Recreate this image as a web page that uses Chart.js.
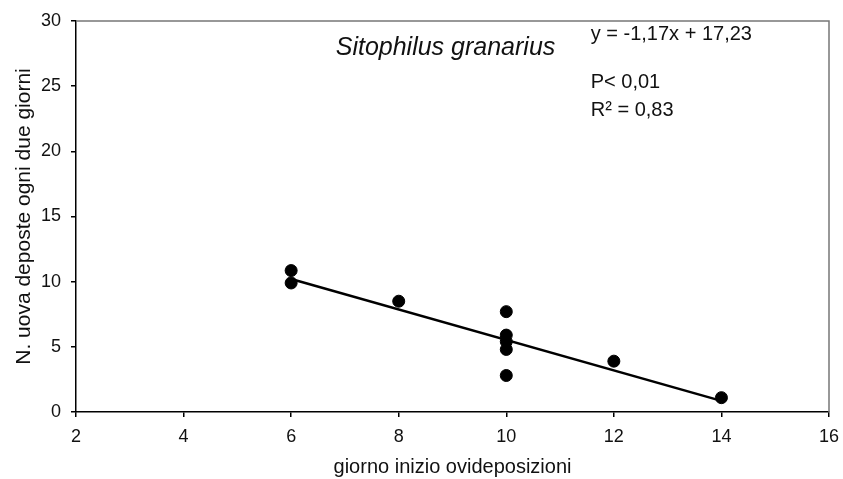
<!DOCTYPE html>
<html>
<head>
<meta charset="utf-8">
<script src="https://cdn.jsdelivr.net/npm/chart.js@4/dist/chart.umd.min.js"></script>
<style>
  html, body { margin: 0; padding: 0; background: #fff; }
  #wrap { width: 843px; height: 479px; }
</style>
</head>
<body>
<div id="wrap"><canvas id="c" width="843" height="479"></canvas></div>
<script>
  // osservazioni (giorno inizio, uova ogni due giorni)
  var giorni = [6, 6, 8, 10, 10, 10, 10, 10, 12, 14];
  var uova = [10.85, 9.9, 8.5, 7.7, 5.9, 5.4, 4.8, 2.8, 3.9, 1.1];

  // retta di regressione
  var rettaX = [6, 14];
  var rettaY = [10.21, 0.85];

  var xTicks = [2, 4, 6, 8, 10, 12, 14, 16];
  var yTicks = [0, 5, 10, 15, 20, 25, 30];

  var annotazioni = [
    { text: 'Sitophilus granarius', x: 8.87, y: 27.9, font: 'italic 25px "Liberation Sans", Arial', align: 'center' },
    { text: 'y = -1,17x + 17,23', x: 11.57, y: 28.95, font: '20px "Liberation Sans", Arial', align: 'left' },
    { text: 'P< 0,01', x: 11.57, y: 25.3, font: '20px "Liberation Sans", Arial', align: 'left' },
    { text: 'R² = 0,83', x: 11.57, y: 23.1, font: '20px "Liberation Sans", Arial', align: 'left' }
  ];

  var scatterPts = giorni.map(function (g, i) { return { x: g, y: uova[i] }; });
  var linePts = rettaX.map(function (g, i) { return { x: g, y: rettaY[i] }; });

  var frame = {
    id: 'frame',
    beforeDatasetsDraw: function (chart) {
      var a = chart.chartArea, ctx = chart.ctx;
      ctx.save();
      ctx.strokeStyle = '#777';
      ctx.lineWidth = 1.5;
      ctx.beginPath();
      ctx.moveTo(a.left, a.top);
      ctx.lineTo(a.right, a.top);
      ctx.lineTo(a.right, a.bottom);
      ctx.stroke();
      ctx.restore();
    },
    afterDraw: function (chart) {
      var ctx = chart.ctx, sx = chart.scales.x, sy = chart.scales.y;
      ctx.save();
      ctx.fillStyle = '#111';
      ctx.textBaseline = 'middle';
      annotazioni.forEach(function (n) {
        ctx.font = n.font;
        ctx.textAlign = n.align;
        ctx.fillText(n.text, sx.getPixelForValue(n.x), sy.getPixelForValue(n.y));
      });
      ctx.restore();
    }
  };

  var fam = '"Liberation Sans", Arial';

  new Chart(document.getElementById('c'), {
    type: 'scatter',
    data: {
      datasets: [
        {
          label: 'regressione',
          type: 'line',
          data: linePts,
          borderColor: '#000',
          borderWidth: 2.5,
          pointRadius: 0,
          fill: false
        },
        {
          label: 'dati',
          data: scatterPts,
          backgroundColor: '#000',
          borderColor: '#000',
          pointRadius: 6,
          pointHoverRadius: 6
        }
      ]
    },
    options: {
      responsive: false,
      animation: false,
      layout: { padding: { top: 21, right: 0, left: 0, bottom: 0 } },
      plugins: { legend: { display: false }, tooltip: { enabled: false } },
      scales: {
        x: {
          type: 'linear',
          min: 2, max: 16,
          afterBuildTicks: function (s) { s.ticks = xTicks.map(function (v) { return { value: v }; }); },
          afterFit: function (s) { s.height = 67; s.paddingRight = 14; s.paddingLeft = 0; },
          grid: { drawOnChartArea: false, drawTicks: true, tickLength: 5, color: '#000', lineWidth: 1.5 },
          border: { color: '#000', width: 1.5 },
          ticks: { color: '#111', font: { family: fam, size: 18 }, padding: 9, maxRotation: 0 },
          title: { display: true, text: 'giorno inizio ovideposizioni', color: '#111', font: { family: fam, size: 20 }, padding: { top: 4, bottom: 0 } }
        },
        y: {
          type: 'linear',
          min: 0, max: 30,
          afterBuildTicks: function (s) { s.ticks = yTicks.map(function (v) { return { value: v }; }); },
          afterFit: function (s) { s.width = 76; },
          grid: { drawOnChartArea: false, drawTicks: true, tickLength: 5, color: '#000', lineWidth: 1.5 },
          border: { color: '#000', width: 1.5 },
          ticks: { color: '#111', font: { family: fam, size: 18 }, padding: 10 },
          title: { display: true, text: 'N. uova deposte ogni due giorni', color: '#111', font: { family: fam, size: 21 }, padding: { top: 12, bottom: 0 } }
        }
      }
    },
    plugins: [frame]
  });
</script>
</body>
</html>
